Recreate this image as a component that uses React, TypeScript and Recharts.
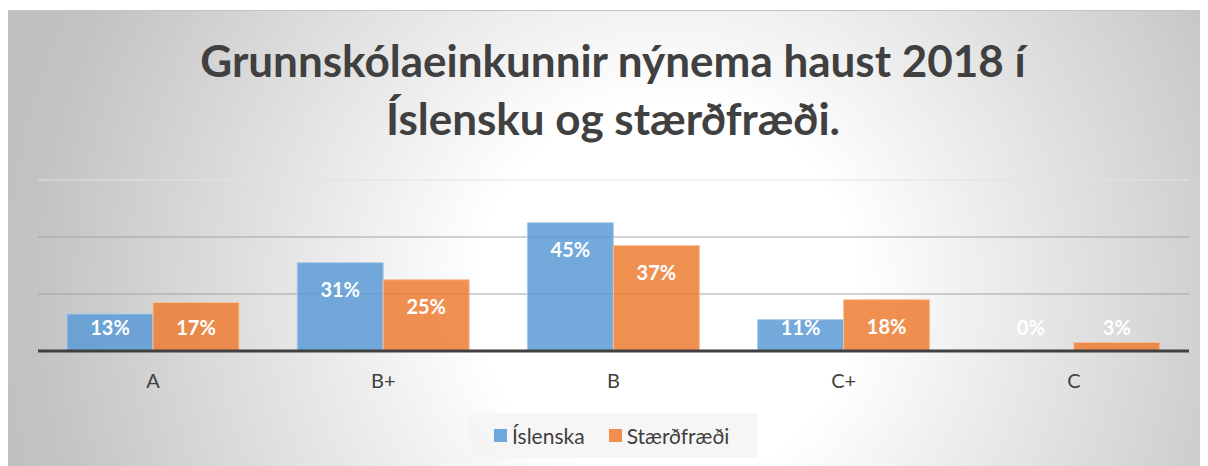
import { BarChart, Bar, XAxis, YAxis, CartesianGrid, ReferenceLine, LabelList } from 'recharts'

const grades = ['A', 'B+', 'B', 'C+', 'C']
const islenska = [13, 31, 45, 11, 0]
const staerdfraedi = [17, 25, 37, 18, 3]
const gridValues = [20, 40]

const data = grades.map((grade, i) => ({
  grade,
  islenska: islenska[i],
  staerdfraedi: staerdfraedi[i],
}))

const FONT = 'Lato, "Open Sans", sans-serif'

function BarLabel(props: any) {
  const { x, y, width, height, value } = props
  const cy = Math.min(y + 26, y + height - 24)
  return (
    <text
      x={x + width / 2}
      y={cy}
      textAnchor="middle"
      dominantBaseline="central"
      fill="#ffffff"
      fontFamily={FONT}
      fontWeight={700}
      fontSize={20}
    >
      {value}%
    </text>
  )
}

function LegendItem({ color, label }: { color: string; label: string }) {
  return (
    <span style={{ display: 'inline-flex', alignItems: 'center', marginRight: 24 }}>
      <span style={{ width: 13, height: 13, background: color, display: 'inline-block', marginRight: 5 }} />
      {label}
    </span>
  )
}

export default function App() {
  return (
    <div
      style={{
        marginTop: 2,
        width: 1200,
        height: 456,
        position: 'relative',
        background:
          'radial-gradient(circle at 55% 62%, #ffffff 0px, #ffffff 190px, #c2c2c2 640px, #bcbcbc 800px)',
        boxShadow: 'inset 0 1px 0 #c4c4c4',
        fontFamily: FONT,
      }}
    >
      <div
        style={{
          position: 'absolute',
          top: 21,
          left: 0,
          width: 1210,
          textAlign: 'center',
          fontSize: 44,
          fontWeight: 700,
          lineHeight: '58px',
          color: '#404040',
        }}
      >
        Grunnskólaeinkunnir nýnema haust 2018 í
        <br />
        Íslensku og stærðfræði.
      </div>
      <BarChart
        width={1200}
        height={456}
        data={data}
        margin={{ top: 170, right: 19, left: 30, bottom: 85 }}
        barCategoryGap={29}
        barGap={0}
        style={{ position: 'absolute', top: 0, left: 0 }}
      >
        <CartesianGrid vertical={false} horizontalValues={gridValues} stroke="#a3a3a3" />
        <ReferenceLine y={60} stroke="#e2e2e2" />
        <YAxis hide domain={[0, 60]} ticks={[0, 20, 40, 60]} />
        <XAxis
          dataKey="grade"
          height={30}
          axisLine={{ stroke: '#404040', strokeWidth: 3 }}
          tickLine={false}
          tickSize={0}
          tickMargin={23}
          tick={{ fill: '#404040', fontSize: 20, fontFamily: FONT }}
        />
        <Bar
          dataKey="islenska"
          fill="#5B9BD5"
          fillOpacity={0.85}
          stroke="#a9cbea"
          minPointSize={0.5}
          isAnimationActive={false}
        >
          <LabelList dataKey="islenska" content={BarLabel} />
        </Bar>
        <Bar dataKey="staerdfraedi" fill="#ED7D31" fillOpacity={0.85} stroke="#f6c09c" isAnimationActive={false}>
          <LabelList dataKey="staerdfraedi" content={BarLabel} />
        </Bar>
      </BarChart>
      <div
        style={{
          position: 'absolute',
          left: 461,
          top: 403,
          width: 289,
          height: 45,
          background: 'rgba(245,245,245,0.85)',
          display: 'flex',
          alignItems: 'center',
          fontSize: 21,
          color: '#404040',
          paddingLeft: 25,
          boxSizing: 'border-box',
        }}
      >
        <LegendItem color="#6fa7da" label="Íslenska" />
        <LegendItem color="#ef8e4e" label="Stærðfræði" />
      </div>
    </div>
  )
}
